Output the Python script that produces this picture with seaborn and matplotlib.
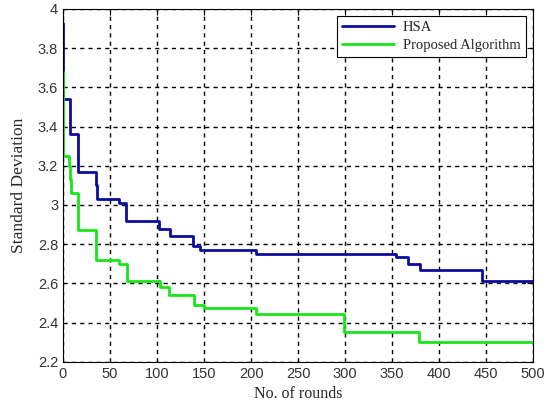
import numpy as np
import pandas as pd
import matplotlib
matplotlib.use("Agg")
import matplotlib.pyplot as plt
import seaborn as sns

# step change points (round, std deviation)
hsa_rounds = [0, 0.5, 7, 8, 16, 35, 36, 60, 67, 102, 114, 138, 146, 205, 354, 367, 380, 446, 500]
hsa_std = [3.93, 3.54, 3.42, 3.36, 3.17, 3.10, 3.03, 3.01, 2.92, 2.88, 2.84, 2.79, 2.77, 2.75, 2.735, 2.70, 2.67, 2.61, 2.61]

prop_rounds = [0, 0.5, 6, 8, 9, 16, 35, 60, 68, 103, 113, 139, 150, 205, 299, 379, 500]
prop_std = [3.68, 3.25, 3.20, 3.13, 3.06, 2.87, 2.72, 2.70, 2.61, 2.58, 2.54, 2.49, 2.475, 2.445, 2.35, 2.30, 2.30]

df = pd.concat([
    pd.DataFrame({"round": hsa_rounds, "std": hsa_std, "series": "HSA"}),
    pd.DataFrame({"round": prop_rounds, "std": prop_std, "series": "Proposed Algorithm"}),
])

sns.set_style("white")
fig = plt.figure(figsize=(5.5, 4.03), dpi=100)
ax = fig.add_axes([0.1145, 0.102, 0.855, 0.876])

sns.lineplot(data=df, x="round", y="std", hue="series",
             palette={"HSA": "#0c0c9c", "Proposed Algorithm": "#19e619"},
             drawstyle="steps-post", linewidth=2, ax=ax, estimator=None, sort=False)

ax.set_xlim(0, 500)
ax.set_ylim(2.2, 4)
ax.set_xticks(np.arange(0, 501, 50))
ax.set_yticks(np.arange(2.2, 4.01, 0.2))
ax.set_yticklabels(["2.2", "2.4", "2.6", "2.8", "3", "3.2", "3.4", "3.6", "3.8", "4"])
ax.grid(True, color="black", linestyle=(0, (3, 3)), linewidth=1)
for s in ax.spines.values():
    s.set_color("black")
    s.set_linewidth(0.8)
ax.tick_params(direction="in", top=True, right=True, length=4, labelsize=10.5,
               labelcolor="#333333", color="black")
for t in ax.get_xticklabels() + ax.get_yticklabels():
    t.set_family("Liberation Sans")

ax.set_xlabel("No. of rounds", family="Liberation Serif", fontsize=11.5, labelpad=4)
ax.set_ylabel("Standard Deviation", family="Liberation Serif", fontsize=12.5, labelpad=8)

leg = ax.legend(loc="upper right", frameon=True, fancybox=False, framealpha=1,
                edgecolor="black", borderaxespad=0.5, handlelength=3.6, handletextpad=0.6,
                borderpad=0.35, prop={"family": "Liberation Serif", "size": 10.5},
                labelspacing=0.3)
leg.get_frame().set_linewidth(0.8)

fig.savefig("out.png", dpi=100)
